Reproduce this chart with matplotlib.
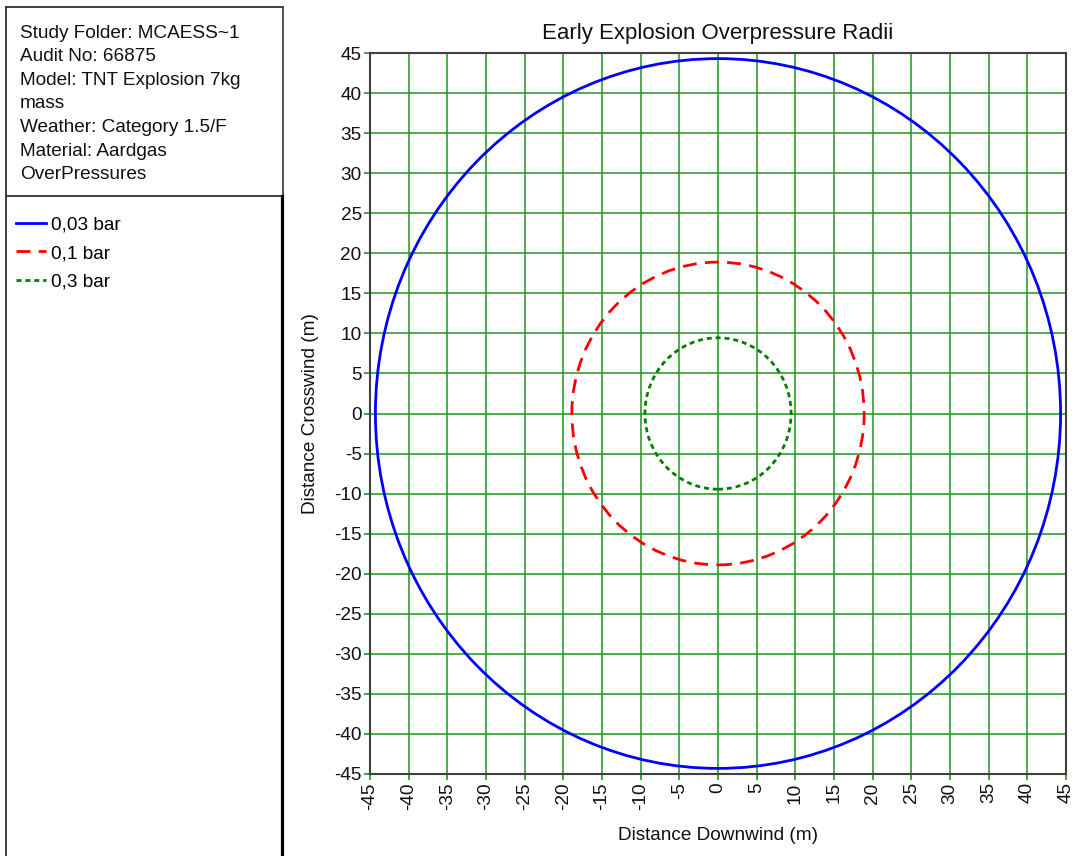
import numpy as np
import matplotlib
matplotlib.use("Agg")
import matplotlib.pyplot as plt
from matplotlib.patches import Circle
from matplotlib.lines import Line2D

plt.rcParams['font.family'] = ['Liberation Sans', 'DejaVu Sans']
plt.rcParams['axes.unicode_minus'] = False

# data
info_lines = ["Study Folder: MCAESS~1", "Audit No: 66875", "Model: TNT Explosion 7kg",
              "mass", "Weather: Category 1.5/F", "Material: Aardgas", "OverPressures"]
labels = ["0,03 bar", "0,1 bar", "0,3 bar"]
radii = [44.3, 18.9, 9.45]
colors = ["#0000ff", "#ff0000", "#008000"]
styles = ["-", (0, (5, 3)), (0, (1.8, 1.4))]
ticks = list(range(-45, 50, 5))

W, H = 1079, 856
fig = plt.figure(figsize=(W / 100, H / 100), dpi=100)

def fx(px):
    return px / W

def fy(py):
    return 1 - py / H

# left panel frame
fig.add_artist(Line2D([fx(5.5), fx(283)], [fy(6.5), fy(6.5)], color="#333333", lw=1.3))
fig.add_artist(Line2D([fx(5.5), fx(5.5)], [fy(6.5), fy(856)], color="#333333", lw=1.3))
fig.add_artist(Line2D([fx(5.5), fx(283)], [fy(196), fy(196)], color="#333333", lw=1.3))
fig.add_artist(Line2D([fx(283), fx(283)], [fy(6.5), fy(196)], color="#444444", lw=1.3))
fig.add_artist(Line2D([fx(282), fx(282)], [fy(196), fy(856)], color="black", lw=2.3))

fs = 13.7
for i, line in enumerate(info_lines):
    fig.text(fx(20), fy(33 + i * 23.6), line, fontsize=fs, va="center", ha="left",
             color="#111111")

handles = [Line2D([], [], color=c, ls=s, lw=2.0) for c, s in zip(colors, styles)]
fig.legend(handles, labels, loc="upper left", bbox_to_anchor=(fx(16), fy(216)),
           frameon=False, fontsize=fs, handlelength=1.6, handletextpad=0.25,
           labelspacing=0.6, borderaxespad=0, borderpad=0)

ax = fig.add_axes([fx(370), fy(774), fx(1066) - fx(370), fy(53) - fy(774)])
for r, c, s in zip(radii, colors, styles):
    ax.add_patch(Circle((0, 0), r, fill=False, edgecolor=c, ls=s, lw=2.0, zorder=3))

ax.set_xlim(-45, 45)
ax.set_ylim(-45, 45)
ax.set_xticks(ticks)
ax.set_yticks(ticks)
ax.set_xticklabels([str(t) for t in ticks], rotation=90)
ax.grid(True, color="#1f951f", lw=1.1)
ax.set_axisbelow(True)
ax.tick_params(direction="out", length=4, width=1.2, color="#1f951f",
               labelsize=fs, labelcolor="#111111", pad=2)
for sp in ax.spines.values():
    sp.set_color("#404040")
    sp.set_linewidth(1.5)
    sp.set_zorder(4)

ax.set_title("Early Explosion Overpressure Radii", fontsize=16, color="#111111", pad=10)
ax.set_xlabel("Distance Downwind (m)", fontsize=fs, color="#111111", labelpad=12)
ax.set_ylabel("Distance Crosswind (m)", fontsize=fs, color="#111111", labelpad=11)

fig.savefig("out.png", dpi=100)
